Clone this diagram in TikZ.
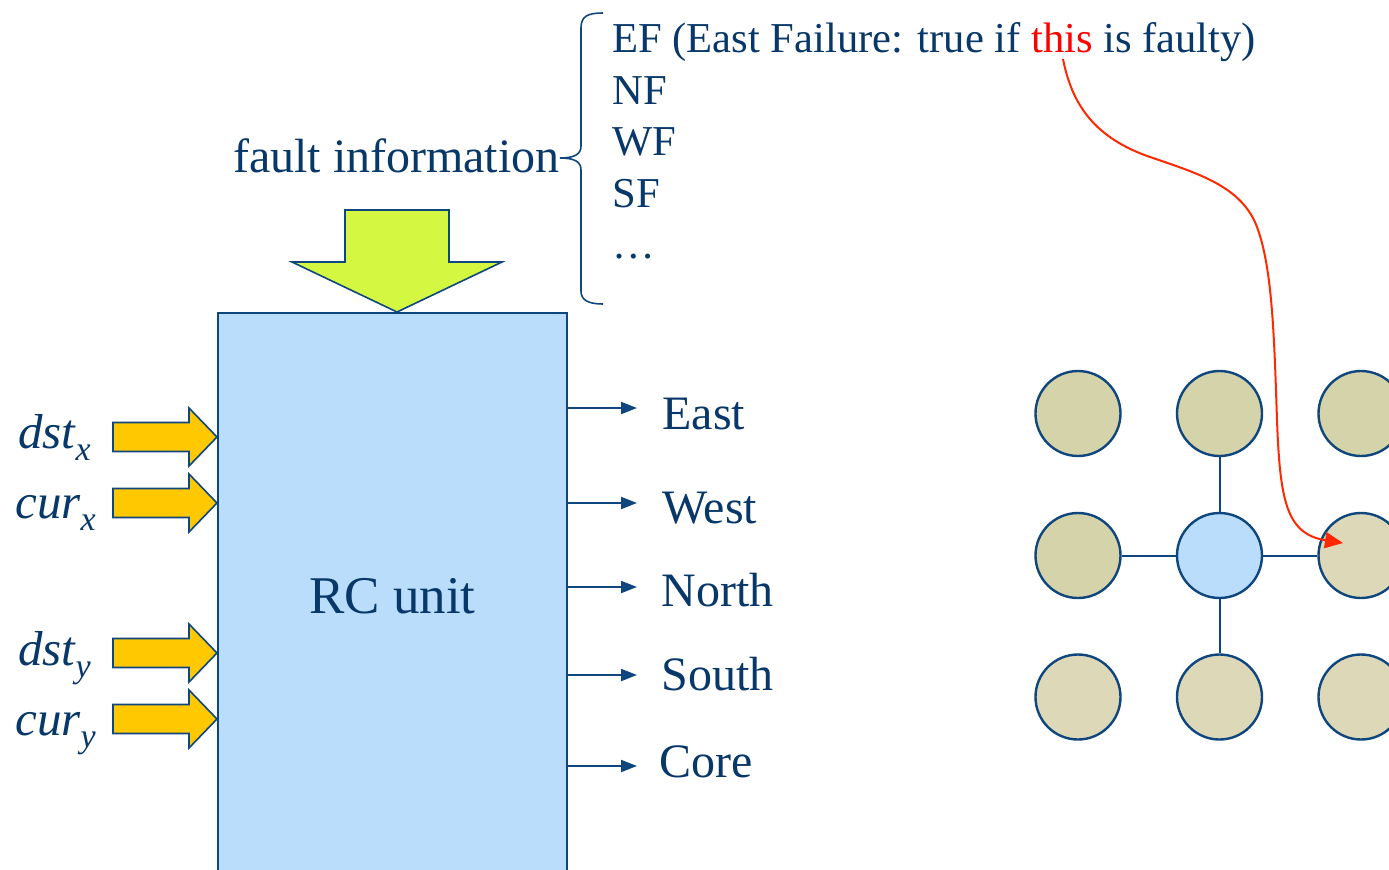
\documentclass[tikz,border=0pt]{standalone}
\usepackage{fontspec}
\setmainfont{Liberation Serif}
\usetikzlibrary{arrows.meta}

\definecolor{ink}{RGB}{8,55,105}
\definecolor{edge}{RGB}{14,70,125}
\definecolor{unitblue}{RGB}{186,221,251}
\definecolor{lime}{RGB}{212,247,66}
\definecolor{amber}{RGB}{255,200,0}
\definecolor{khaki}{RGB}{213,211,169}
\definecolor{khakilight}{RGB}{220,216,184}
\definecolor{hot}{RGB}{255,40,0}

\begin{document}
\begin{tikzpicture}[x=0.5pt,y=-0.5pt,
  lbl/.style={text=ink,inner sep=0pt,anchor=base west,font=\fontsize{24}{28}\selectfont},
  listitem/.style={text=ink,inner sep=0pt,anchor=base west,font=\fontsize{21.3}{25}\selectfont},
  inlbl/.style={text=ink,inner sep=0pt,anchor=base west,font=\fontsize{24.5}{28}\selectfont\itshape},
  outarrow/.style={draw=edge,line width=1pt,-{Triangle[length=8pt,width=6pt]}},
  feed/.style={draw=edge,line width=0.8pt,fill=amber},
  router/.style={circle,draw=edge,line width=1.2pt,minimum size=42.5pt,inner sep=0pt},
  link/.style={draw=edge,line width=1pt}]
\useasboundingbox (0,0) rectangle (1389,869);
\clip (0,0) rectangle (1389,869);

% routing computation unit
\draw[edge,line width=1pt,fill=unitblue] (218,313) rectangle (567,960);
\coordinate (boxtop) at (397,313);
\node[inner sep=0pt,anchor=base,text=ink,font=\fontsize{26.5}{30}\selectfont] (rc) at (392.5,613) {RC unit};

% fault information entering from above
\coordinate (fitip) at (397,312);
\draw[edge,line width=0.8pt,fill=lime]
  (345,210) -- (449,210) -- (449,262) -- (502,262) -- (fitip) -- (292,262) -- (345,262) -- cycle;
\node[lbl,anchor=base east] (fault) at (560,172) {fault information};
\draw[edge,line width=0.8pt]
  (603,13) .. controls (588,13) and (581,16) .. (581,28) -- (581,146)
  .. controls (581,154) and (575,158) .. (fault.east |- 0,158)
  .. controls (575,158) and (581,162) .. (581,170) -- (581,291)
  .. controls (581,300) and (588,304) .. (603,304);

\node[listitem] (ef) at (612,52) {EF (East Failure: true if \textcolor{red}{this} is faulty)};
\node[listitem] (nf) at (612,104) {NF};
\node[listitem] (wf) at (612,155) {WF};
\node[listitem] (sf) at (612,207) {SF};
\node[listitem] (more) at (612,258) {…};

% coordinate inputs
\foreach \c in {437,503,653,719}{
  \draw[feed] (113,{\c-14.5}) -- (189,{\c-14.5}) -- (189,{\c-29}) -- (217,\c)
    -- (189,{\c+29}) -- (189,{\c+14.5}) -- (113,{\c+14.5}) -- cycle;
}
\node[inlbl] (dstx) at (18,448) {dst\raisebox{-6pt}{\fontsize{17}{20}\selectfont x}};
\node[inlbl] (curx) at (15,518) {cur\raisebox{-6pt}{\fontsize{17}{20}\selectfont x}};
\node[inlbl] (dsty) at (18,665) {dst\raisebox{-6pt}{\fontsize{17}{20}\selectfont y}};
\node[inlbl] (cury) at (15,735) {cur\raisebox{-6pt}{\fontsize{17}{20}\selectfont y}};

% output directions
\node[lbl] (east) at (662,429) {East};
\node[lbl] (west) at (662,523) {West};
\node[lbl] (north) at (661,606) {North};
\node[lbl] (south) at (661,690) {South};
\node[lbl] (core) at (659,777) {Core};
\coordinate (tE) at (637,408);
\coordinate (tW) at (637,503);
\coordinate (tN) at (637,587);
\coordinate (tS) at (637,675);
\coordinate (tC) at (637,766);
\foreach \t in {tE,tW,tN,tS,tC}{
  \draw[outarrow] (567,0 |- \t) -- (\t);
}

% 3x3 mesh neighbourhood
\node[router,fill=khaki] (n11) at (1078,413.5) {};
\node[router,fill=khaki] (n12) at (1219.5,413.5) {};
\node[router,fill=khaki] (n13) at (1361,413.5) {};
\node[router,fill=khaki] (n21) at (1078,555.5) {};
\node[router,fill=unitblue] (n22) at (1219.5,555.5) {};
\node[router,fill=khakilight] (n23) at (1361,555.5) {};
\node[router,fill=khakilight] (n31) at (1078,697) {};
\node[router,fill=khakilight] (n32) at (1219.5,697) {};
\node[router,fill=khakilight] (n33) at (1361,697) {};
\draw[link] (n22) -- (n12);
\draw[link] (n22) -- (n21);
\draw[link] (n22) -- (n23);
\draw[link] (n22) -- (n32);

% pointer from the word "this" to the east neighbour
\coordinate (thisword) at (1063,59);
\coordinate (hit) at (1343,543);
\draw[hot,line width=1pt,-{Triangle[length=9pt,width=8pt]}]
  (thisword) .. controls (1072,105) and (1095,138) .. (1150,157)
  .. controls (1200,174) and (1238,186) .. (1255,222)
  .. controls (1272,262) and (1274,330) .. (1277,420)
  .. controls (1280,500) and (1286,534) .. (hit);
\end{tikzpicture}
\end{document}
